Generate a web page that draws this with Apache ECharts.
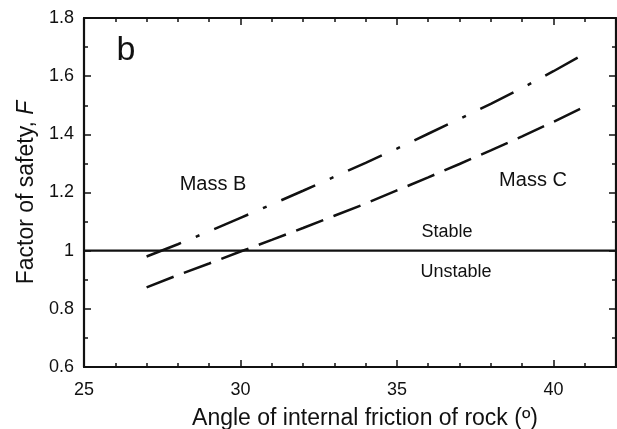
<!DOCTYPE html>
<html>
<head>
<meta charset="utf-8">
<script src="https://cdn.jsdelivr.net/npm/echarts@6/dist/echarts.min.js"></script>
<style>
html,body{margin:0;padding:0;background:#fff;}
#chart{width:617px;height:429px;}
</style>
</head>
<body>
<div id="chart"></div>
<script>
// ---- data ----
const angles = [27, 28, 29, 30, 31, 32, 33, 34, 35, 36, 37, 38, 39, 40, 41];
const massB = [0.98, 1.022, 1.067, 1.113, 1.159, 1.206, 1.254, 1.302, 1.351, 1.402, 1.453, 1.505, 1.559, 1.617, 1.677];
const massC = [0.874, 0.916, 0.956, 0.997, 1.037, 1.078, 1.12, 1.162, 1.207, 1.252, 1.298, 1.345, 1.393, 1.443, 1.495];
const limitX = [25, 42];
const limitF = [1, 1];
const xTickLabels = [25, 30, 35, 40];
const yTickLabels = [0.6, 0.8, 1, 1.2, 1.4, 1.6, 1.8];

const FONT = 'Liberation Sans, Arial, Helvetica, sans-serif';
const INK = '#111';

const chart = echarts.init(document.getElementById('chart'), null, {renderer: 'canvas'});

function xAxisCfg(pos, interval, tickLen, showLine, showLabels, extra) {
  return Object.assign({
    type: 'value', position: pos, min: limitX[0], max: limitX[1], interval: interval,
    axisLine: {show: showLine, onZero: false, lineStyle: {color: INK, width: 2.2}},
    axisTick: {show: true, inside: true, length: tickLen, lineStyle: {color: INK, width: 1.5}},
    axisLabel: {show: showLabels, margin: 14, color: INK, fontSize: 18, fontFamily: FONT,
      formatter: v => xTickLabels.includes(v) ? String(v) : ''},
    splitLine: {show: false}
  }, extra || {});
}
function yAxisCfg(pos, showLabels, extra) {
  return Object.assign({
    type: 'value', position: pos, min: yTickLabels[0], max: yTickLabels[yTickLabels.length - 1], interval: 0.2,
    axisLine: {show: true, onZero: false, lineStyle: {color: INK, width: 2.2}},
    axisTick: {show: true, inside: true, length: 7, lineStyle: {color: INK, width: 1.5}},
    minorTick: {show: true, splitNumber: 2, length: 4, lineStyle: {color: INK, width: 1.5}},
    axisLabel: {show: showLabels, margin: 10, color: INK, fontSize: 18, fontFamily: FONT},
    splitLine: {show: false}, minorSplitLine: {show: false}
  }, extra || {});
}

const option = {
  animation: false,
  backgroundColor: '#fff',
  grid: {left: 84, right: 1, top: 18, bottom: 62, containLabel: false, outerBoundsMode: 'none'},
  xAxis: [
    xAxisCfg('bottom', 5, 7, true, true, {
      name: 'Angle of internal friction of rock (º)', nameLocation: 'middle', nameGap: 40,
      nameTextStyle: {color: INK, fontSize: 23, fontFamily: FONT, padding: [0, 0, 0, 30]}
    }),
    xAxisCfg('bottom', 1, 4, false, false),
    xAxisCfg('top', 5, 7, true, false),
    xAxisCfg('top', 1, 4, false, false)
  ],
  yAxis: [
    yAxisCfg('left', true, {
      name: '{a|Factor of safety, }{b|F}', nameLocation: 'middle', nameGap: 42, nameRotate: 90,
      nameTextStyle: {color: INK, fontSize: 23, fontFamily: FONT,
        rich: {a: {color: INK, fontSize: 23, fontFamily: FONT}, b: {color: INK, fontSize: 23, fontFamily: FONT, fontStyle: 'italic'}}}
    }),
    yAxisCfg('right', false)
  ],
  series: [
    {
      name: 'Mass B', type: 'line', xAxisIndex: 0, yAxisIndex: 0, showSymbol: false, symbol: 'none',
      data: angles.map((a, i) => [a, massB[i]]),
      lineStyle: {color: INK, width: 2.5, type: [37, 16, 4, 16], cap: 'butt'}
    },
    {
      name: 'Mass C', type: 'line', xAxisIndex: 0, yAxisIndex: 0, showSymbol: false, symbol: 'none',
      data: angles.map((a, i) => [a, massC[i]]),
      lineStyle: {color: INK, width: 2.5, type: [29, 11], cap: 'butt'}
    },
    {
      name: 'Limit', type: 'line', xAxisIndex: 0, yAxisIndex: 0, showSymbol: false, symbol: 'none',
      data: limitX.map((x, i) => [x, limitF[i]]),
      lineStyle: {color: INK, width: 2.2, type: 'solid'}
    }
  ],
  graphic: [
    {type: 'text', x: 126, y: 51, style: {text: 'b', fill: INK, font: '34px ' + FONT, textAlign: 'center', textVerticalAlign: 'middle'}},
    {type: 'text', x: 213, y: 184, style: {text: 'Mass B', fill: INK, font: '20px ' + FONT, textAlign: 'center', textVerticalAlign: 'middle'}},
    {type: 'text', x: 533, y: 180, style: {text: 'Mass C', fill: INK, font: '20px ' + FONT, textAlign: 'center', textVerticalAlign: 'middle'}},
    {type: 'text', x: 447, y: 232, style: {text: 'Stable', fill: INK, font: '18px ' + FONT, textAlign: 'center', textVerticalAlign: 'middle'}},
    {type: 'text', x: 456, y: 272, style: {text: 'Unstable', fill: INK, font: '18px ' + FONT, textAlign: 'center', textVerticalAlign: 'middle'}}
  ]
};
chart.setOption(option);
</script>
</body>
</html>
